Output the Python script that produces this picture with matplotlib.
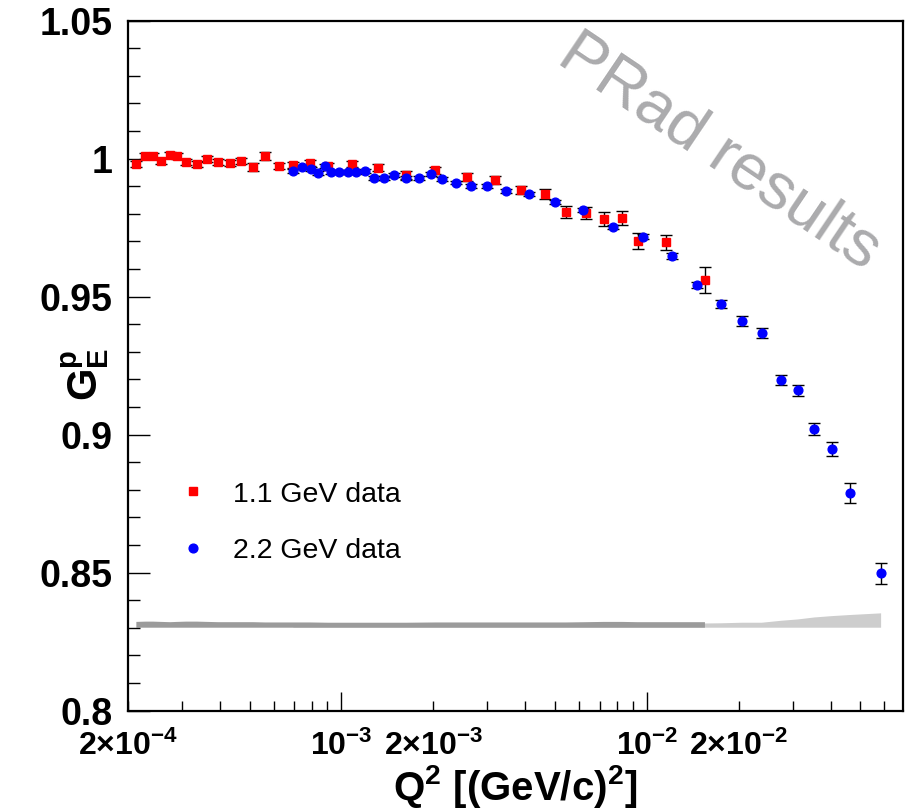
import numpy as np
import matplotlib
matplotlib.use("Agg")
import matplotlib.pyplot as plt
from matplotlib.ticker import FixedLocator, FuncFormatter, MultipleLocator
from matplotlib.lines import Line2D

plt.rcParams["font.family"] = ["Liberation Sans", "DejaVu Sans"]
plt.rcParams["mathtext.fontset"] = "custom"
plt.rcParams["mathtext.rm"] = "Liberation Sans"
plt.rcParams["mathtext.bf"] = "Liberation Sans:bold"
plt.rcParams["mathtext.it"] = "Liberation Sans:italic"

# ---- 1.1 GeV data: Q^2 [(GeV/c)^2], G_E^p, stat. error, syst. error ----
q2_11 = [2.13e-4, 2.28e-4, 2.42e-4, 2.57e-4, 2.75e-4, 2.90e-4, 3.10e-4, 3.37e-4,
         3.64e-4, 3.95e-4, 4.30e-4, 4.70e-4, 5.14e-4, 5.63e-4, 6.26e-4, 6.96e-4,
         7.91e-4, 9.06e-4, 1.08e-3, 1.32e-3, 1.63e-3, 2.03e-3, 2.57e-3, 3.18e-3,
         3.86e-3, 4.63e-3, 5.43e-3, 6.31e-3, 7.23e-3, 8.28e-3, 9.34e-3, 1.154e-2,
         1.55e-2]
ge_11 = [0.9980, 1.0009, 1.0009, 0.9991, 1.0013, 1.0009, 0.9987, 0.9980,
         0.9998, 0.9987, 0.9984, 0.9991, 0.9969, 1.0009, 0.9973, 0.9976,
         0.9984, 0.9973, 0.9980, 0.9966, 0.9940, 0.9958, 0.9933, 0.9922,
         0.9886, 0.9871, 0.9806, 0.9803, 0.9781, 0.9784, 0.9701, 0.9697,
         0.9560]
err_11 = [0.0012, 0.0011, 0.0011, 0.0012, 0.0012, 0.0012, 0.0012, 0.0012,
          0.0012, 0.0012, 0.0012, 0.0012, 0.0013, 0.0013, 0.0012, 0.0012,
          0.0012, 0.0012, 0.0012, 0.0013, 0.0013, 0.0013, 0.0013, 0.0014,
          0.0016, 0.0018, 0.0021, 0.0022, 0.0025, 0.0026, 0.0028, 0.0027,
          0.0047]
sys_11 = [0.0021, 0.0022, 0.0022, 0.0021, 0.0020, 0.0021, 0.0022, 0.0022,
          0.0021, 0.0020, 0.0020, 0.0020, 0.0020, 0.0019, 0.0019, 0.0019,
          0.0019, 0.0018, 0.0018, 0.0018, 0.0018, 0.0019, 0.0019, 0.0019,
          0.0019, 0.0019, 0.0019, 0.0020, 0.0021, 0.0021, 0.0020, 0.0020,
          0.0020]

# ---- 2.2 GeV data ----
q2_22 = [6.96e-4, 7.45e-4, 7.97e-4, 8.40e-4, 8.86e-4, 9.27e-4, 9.85e-4, 1.047e-3,
         1.12e-3, 1.19e-3, 1.28e-3, 1.38e-3, 1.49e-3, 1.63e-3, 1.79e-3, 1.96e-3,
         2.14e-3, 2.38e-3, 2.65e-3, 2.99e-3, 3.45e-3, 4.10e-3, 4.99e-3, 6.17e-3,
         7.74e-3, 9.70e-3, 1.208e-2, 1.46e-2, 1.75e-2, 2.05e-2, 2.38e-2, 2.75e-2,
         3.13e-2, 3.53e-2, 4.04e-2, 4.63e-2, 5.85e-2]
ge_22 = [0.9955, 0.9969, 0.9962, 0.9947, 0.9973, 0.9951, 0.9951, 0.9951,
         0.9951, 0.9955, 0.9929, 0.9929, 0.9940, 0.9929, 0.9929, 0.9944,
         0.9926, 0.9913, 0.9900, 0.9900, 0.9882, 0.9871, 0.9842, 0.9813,
         0.9752, 0.9716, 0.9647, 0.9542, 0.9473, 0.9411, 0.9368, 0.9197,
         0.9161, 0.9020, 0.8947, 0.8788, 0.8498]
err_22 = [0.0006, 0.0006, 0.0006, 0.0006, 0.0006, 0.0006, 0.0006, 0.0006,
          0.0006, 0.0006, 0.0006, 0.0006, 0.0006, 0.0006, 0.0006, 0.0006,
          0.0006, 0.0006, 0.0006, 0.0007, 0.0007, 0.0007, 0.0007, 0.0008,
          0.0008, 0.0009, 0.0010, 0.0012, 0.0016, 0.0017, 0.0017, 0.0019,
          0.0020, 0.0023, 0.0026, 0.0036, 0.0038]
sys_22 = [0.0012, 0.0012, 0.0012, 0.0012, 0.0012, 0.0012, 0.0012, 0.0012,
          0.0012, 0.0012, 0.0012, 0.0012, 0.0012, 0.0012, 0.0012, 0.0012,
          0.0012, 0.0012, 0.0012, 0.0012, 0.0013, 0.0013, 0.0013, 0.0014,
          0.0014, 0.0014, 0.0015, 0.0015, 0.0016, 0.0018, 0.0018, 0.0025,
          0.0030, 0.0037, 0.0042, 0.0046, 0.0052]

band_base = 0.830

x_major = [1e-3, 1e-2]
x_labeled_minor = [2e-4, 2e-3, 2e-2]
x_minor_labels = [r"$\mathbf{2{\times}10^{-4}}$", r"$\mathbf{2{\times}10^{-3}}$",
                  r"$\mathbf{2{\times}10^{-2}}$"]
x_major_labels = [r"$\mathbf{10^{-3}}$", r"$\mathbf{10^{-2}}$"]
y_major = [0.8, 0.85, 0.9, 0.95, 1.0, 1.05]
y_major_labels = ["0.8", "0.85", "0.9", "0.95", "1", "1.05"]

fig = plt.figure(figsize=(9.08, 8.12), dpi=100)
ax = fig.add_axes([128 / 908, 1 - 711.5 / 812, 775 / 908, 690 / 812])

ax.set_xscale("log")
ax.set_xlim(2.0e-4, 0.069)
ax.set_ylim(0.8, 1.05)

# systematic uncertainty bands
q2_11a, q2_22a = np.array(q2_11), np.array(q2_22)
ax.fill_between(q2_22a, band_base, band_base + np.array(sys_22),
                facecolor="#cdcdcd", edgecolor="none", zorder=1)
ax.fill_between(q2_11a, band_base, band_base + np.array(sys_11),
                facecolor="#9b9b9b", edgecolor="none", zorder=1.1)

# watermark
fig.text(720 / 908, 1 - 152 / 812, "PRad results", fontsize=47, color="#ababad",
         rotation=-34, rotation_mode="anchor", ha="center", va="center", zorder=0)

# data points
for q, g, e, mk, col in [(q2_11, ge_11, err_11, "s", "#ff0000"),
                         (q2_22, ge_22, err_22, "o", "#0000ff")]:
    ax.errorbar(q, g, yerr=e, fmt="none", ecolor="black", elinewidth=1.0,
                capsize=4, capthick=1.0, zorder=3)
    ax.plot(q, g, linestyle="none", marker=mk, ms=6.3, color=col, mec=col, zorder=4)

# axes styling
for s in ax.spines.values():
    s.set_linewidth(1.6)
ax.xaxis.set_major_locator(FixedLocator(x_major))
ax.xaxis.set_major_formatter(FuncFormatter(lambda v, p: x_major_labels[p] if p < len(x_major_labels) else ""))
minor_pos = [m * 10.0 ** k for k in (-4, -3, -2) for m in range(2, 10)]
minor_pos = [v for v in minor_pos if 2.0e-4 <= v <= 0.069]
ax.xaxis.set_minor_locator(FixedLocator(minor_pos))


def minor_fmt(v, p):
    for pos, lab in zip(x_labeled_minor, x_minor_labels):
        if abs(v / pos - 1) < 1e-6:
            return lab
    return ""


ax.xaxis.set_minor_formatter(FuncFormatter(minor_fmt))
ax.yaxis.set_major_locator(FixedLocator(y_major))
ax.set_yticklabels(y_major_labels)
ax.yaxis.set_minor_locator(MultipleLocator(0.01))

ax.tick_params(axis="x", which="major", direction="in", length=14, width=1.0,
               labelsize=23, pad=14)
ax.tick_params(axis="x", which="minor", direction="in", length=7, width=1.0,
               labelsize=23, pad=14)
ax.tick_params(axis="y", which="major", direction="in", length=16, width=1.0,
               labelsize=27, pad=11)
ax.tick_params(axis="y", which="minor", direction="in", length=8.5, width=1.0)
for lab in ax.get_yticklabels():
    lab.set_fontweight("bold")

ax.set_xlabel(r"$\mathbf{Q^{2}\ [(GeV/c)^{2}]}$", fontsize=29)
ax.xaxis.set_label_coords(0.499, -0.108)
ax.xaxis.label.set_va("center")
ax.set_ylabel(r"$\mathbf{G_{E}^{p}}$", fontsize=30)
ax.yaxis.set_label_coords(-0.055, 0.488)
ax.yaxis.label.set_va("center")

handles = [Line2D([], [], linestyle="none", marker="s", ms=6.3, color="#ff0000"),
           Line2D([], [], linestyle="none", marker="o", ms=6.3, color="#0000ff")]
ax.legend(handles, ["1.1 GeV data", "2.2 GeV data"], loc="upper left",
          bbox_to_anchor=(179 / 908, 1 - 482 / 812), bbox_transform=fig.transFigure,
          frameon=False, fontsize=20.5, handlelength=1.0, handletextpad=0.9,
          labelspacing=1.07, borderpad=0, borderaxespad=0)

fig.savefig("out.png", dpi=100)
